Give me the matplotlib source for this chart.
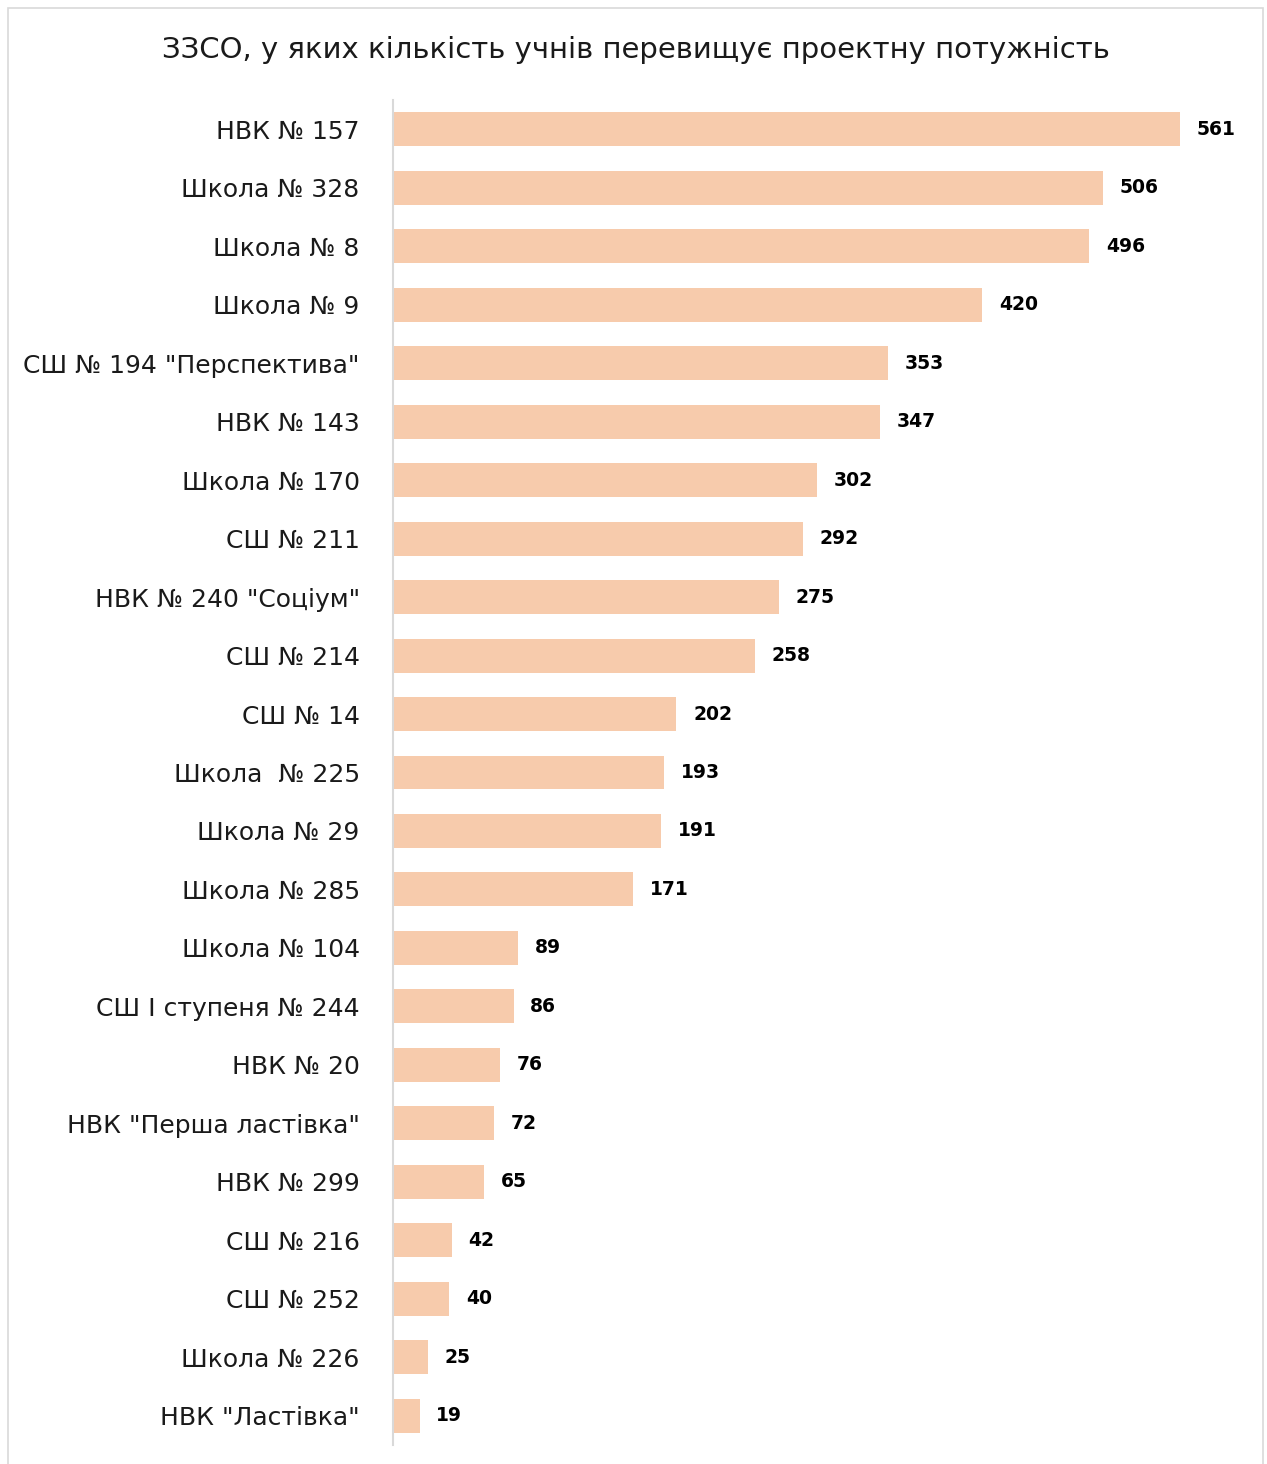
import matplotlib
matplotlib.use("Agg")
import matplotlib.pyplot as plt
from matplotlib.patches import Rectangle

schools = [
    "НВК № 157", "Школа № 328", "Школа № 8", "Школа № 9",
    "СШ № 194 \"Перспектива\"", "НВК № 143", "Школа № 170", "СШ № 211",
    "НВК № 240 \"Соціум\"", "СШ № 214", "СШ № 14", "Школа  № 225",
    "Школа № 29", "Школа № 285", "Школа № 104", "СШ І ступеня № 244",
    "НВК № 20", "НВК \"Перша ластівка\"", "НВК № 299", "СШ № 216",
    "СШ № 252", "Школа № 226", "НВК \"Ластівка\"",
]
excess = [561, 506, 496, 420, 353, 347, 302, 292, 275, 258, 202, 193,
          191, 171, 89, 86, 76, 72, 65, 42, 40, 25, 19]
title = "ЗЗСО, у яких кількість учнів перевищує проектну потужність"

BAR_COLOR = "#F7CBAC"
W, H = 1267, 1464

plt.rcParams["font.family"] = ["DejaVu Sans"]

fig = plt.figure(figsize=(W / 100, H / 100), dpi=100)
fig.add_artist(Rectangle((8 / W, -0.01), (W - 12) / W, (H - 8) / H + 0.01,
                         transform=fig.transFigure, fill=False,
                         edgecolor="#d9d9d9", linewidth=1.2))

left, right = 393, 1235
top, bottom = 100, 1445
ax = fig.add_axes([left / W, 1 - bottom / H, (right - left) / W, (bottom - top) / H])

ypos = list(range(len(schools)))
ax.barh(ypos, excess, height=0.58, color=BAR_COLOR, edgecolor="none")
ax.set_ylim(len(schools) - 0.5, -0.5)
ax.set_xlim(0, 600)

for y, v in zip(ypos, excess):
    ax.annotate(str(v), (v, y), xytext=(12, 0), textcoords="offset points",
                va="center", ha="left", fontsize=13.5, fontweight="bold",
                color="black")

ax.set_yticks(ypos)
ax.set_yticklabels(schools, fontsize=18, color="#1a1a1a")
ax.tick_params(axis="y", length=0, pad=24)
ax.set_xticks([])
for s in ["top", "right", "bottom"]:
    ax.spines[s].set_visible(False)
ax.spines["left"].set_color("#d9d9d9")
ax.spines["left"].set_linewidth(1.5)

fig.text(636 / W, 1 - 50 / H, title, ha="center", va="center",
         fontsize=21, color="#1a1a1a")

fig.savefig("out.png", dpi=100)
